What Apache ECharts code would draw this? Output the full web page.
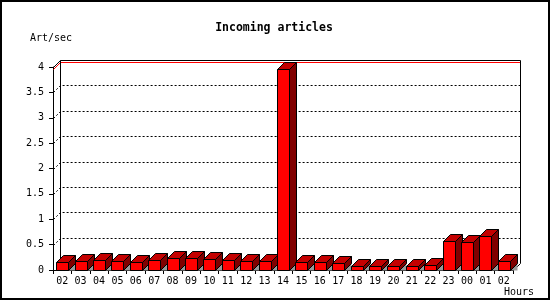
<!DOCTYPE html>
<html><head><meta charset="utf-8">
<script src="https://cdn.jsdelivr.net/npm/echarts@6/dist/echarts.min.js"></script>
<style>html,body{margin:0;padding:0;background:#fff}#c{width:550px;height:300px}</style>
</head><body><div id="c"></div>
<script>
// ---- data ----
const hours = ['02','03','04','05','06','07','08','09','10','11','12','13','14','15','16','17','18','19','20','21','22','23','00','01','02'];
const rates = [0.15,0.18,0.19,0.17,0.15,0.19,0.23,0.23,0.21,0.19,0.17,0.17,3.96,0.15,0.15,0.13,0.08,0.07,0.07,0.07,0.09,0.57,0.55,0.67,0.17];
const gridValues = [0.5,1,1.5,2,2.5,3,3.5];
const titleText = 'Incoming articles';
const yName = 'Art/sec';
const xName = 'Hours';

const D = 7;            // 3D depth offset in px
const FONT = 'DejaVu Sans Mono';
const maxRate = Math.max.apply(null, rates);
const px = v => Math.round(v) + 0.5;

function wallItem(params, api) {
  const cs = params.coordSys;
  const L = px(cs.x), T = px(cs.y), R = px(cs.x + cs.width), B = px(cs.y + cs.height);
  const ch = [];
  gridValues.forEach(v => {
    const y = px(api.coord([0, v])[1]);
    ch.push({type:'polyline', shape:{points:[[L,y],[L+D,y-D],[R+D,y-D]]},
      style:{stroke:'#000', lineWidth:1, lineDash:[2,2], fill:null}});
  });
  const ym = px(api.coord([0, maxRate])[1]);
  ch.push({type:'polyline', shape:{points:[[L,ym],[L+D,ym-D],[R+D,ym-D]]},
    style:{stroke:'#ff0000', lineWidth:1, fill:null}});
  ch.push({type:'polyline', shape:{points:[[L,T],[L+D,T-D],[R+D,T-D],[R+D,B-D],[R,B]]},
    style:{stroke:'#000', lineWidth:1, fill:null}});
  ch.push({type:'line', shape:{x1:L+D,y1:T-D,x2:L+D,y2:B-D}, style:{stroke:'#000', lineWidth:1}});
  return {type:'group', children:ch};
}

function barItem(params, api) {
  const i = api.value(0), v = api.value(1);
  const top = api.coord([i, v]);
  const bot = api.coord([i, 0]);
  const bw = Math.round(api.size([1, 0])[0] * 0.63);
  const xl = px(top[0] - bw / 2), xr = xl + bw;
  const yt = px(top[1]), yb = px(bot[1]);
  const k = {stroke:'#000', lineWidth:1};
  return {type:'group', children:[
    {type:'polygon', shape:{points:[[xr,yb],[xr+D,yb-D],[xr+D,yb]]}, style:{fill:'#999999'}},
    {type:'polygon', shape:{points:[[xr,yt],[xr+D,yt-D],[xr+D,yb-D],[xr,yb]]}, style:Object.assign({fill:'#800000'},k)},
    {type:'polygon', shape:{points:[[xl,yt],[xr,yt],[xr+D,yt-D],[xl+D,yt-D]]}, style:Object.assign({fill:'#c40000'},k)},
    {type:'rect', shape:{x:xl,y:yt,width:xr-xl,height:yb-yt}, style:Object.assign({fill:'#ff0000'},k)}
  ]};
}

const chart = echarts.init(document.getElementById('c'), null, {renderer:'canvas'});
chart.setOption({
  animation:false,
  backgroundColor:'#fff',
  grid:{left:53, right:37, top:67, bottom:30, containLabel:false},
  xAxis:{type:'category', data:hours, boundaryGap:true,
    axisLine:{show:true, lineStyle:{color:'#000', width:1}},
    axisTick:{show:true, length:4, lineStyle:{color:'#000'}, alignWithLabel:false},
    axisLabel:{interval:0, color:'#000', fontFamily:FONT, fontSize:10, margin:6},
    splitLine:{show:false}},
  yAxis:{type:'value', min:0, max:4, interval:0.5,
    axisLine:{show:true, lineStyle:{color:'#000', width:1}},
    axisTick:{show:true, length:4, lineStyle:{color:'#000'}},
    axisLabel:{color:'#000', fontFamily:FONT, fontSize:10, margin:9},
    splitLine:{show:false}},
  series:[
    {type:'custom', renderItem:wallItem, data:[[0,0]], z:1, silent:true, clip:false},
    {type:'custom', renderItem:barItem, data:rates.map((v,i)=>[i,v]), z:2, silent:true, clip:false}
  ],
  graphic:[
    {type:'rect', shape:{x:1,y:1,width:548,height:298}, style:{fill:null, stroke:'#000', lineWidth:2}, z:100},
    {type:'text', x:274, y:28, style:{text:titleText, fontFamily:FONT, fontWeight:'bold', fontSize:11.5, fill:'#000', align:'center', verticalAlign:'middle'}},
    {type:'text', x:30, y:38.5, style:{text:yName, fontFamily:FONT, fontSize:10, fill:'#000', align:'left', verticalAlign:'middle'}},
    {type:'text', x:504, y:292, style:{text:xName, fontFamily:FONT, fontSize:10, fill:'#000', align:'left', verticalAlign:'middle'}}
  ]
});
</script>
</body></html>
